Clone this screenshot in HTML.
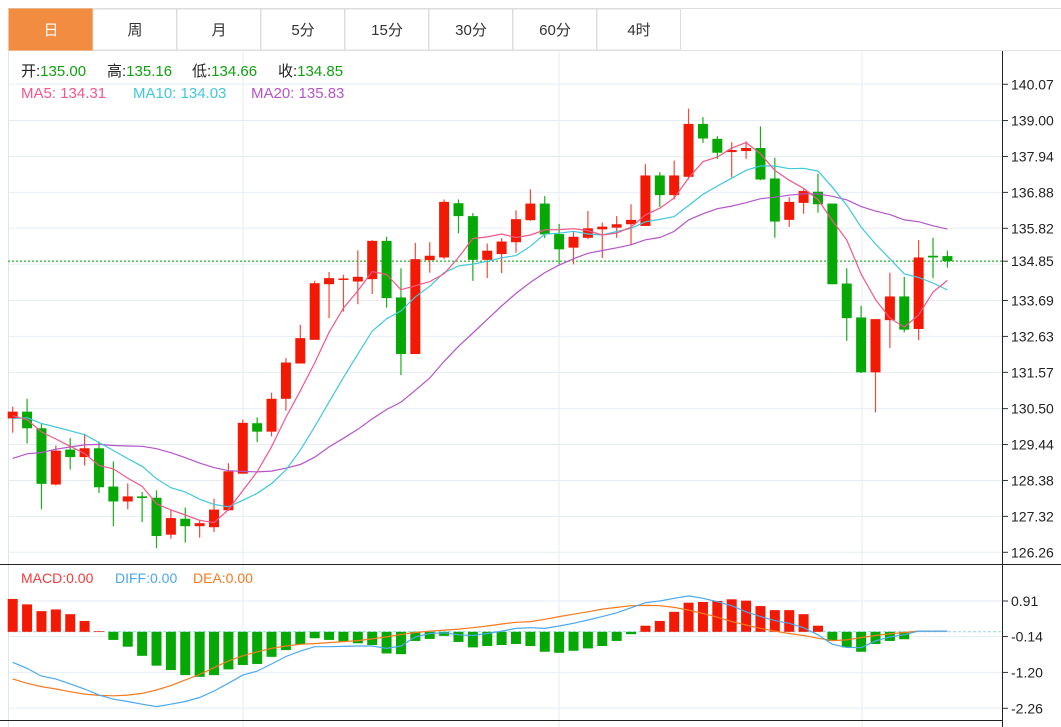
<!DOCTYPE html>
<html><head><meta charset="utf-8">
<style>
body{margin:0;background:#fff;width:1061px;height:727px;overflow:hidden;font-family:"Liberation Sans","Noto Sans CJK SC",sans-serif;}
svg{display:block}
</style></head>
<body>
<svg id="c" width="1061" height="727" xmlns="http://www.w3.org/2000/svg" font-family="Liberation Sans, Noto Sans CJK SC, sans-serif"></svg>
<script>
const opens=[130.21,130.41,129.92,128.26,129.29,129.07,129.33,128.20,127.76,127.91,127.87,126.78,127.25,127.03,127.00,127.50,128.58,130.07,129.82,130.79,131.83,132.53,134.17,134.30,134.25,134.32,135.45,133.78,132.11,134.88,134.96,136.56,136.18,134.89,135.06,135.41,136.06,136.55,135.65,135.25,135.54,135.79,135.84,135.94,135.89,137.38,136.80,137.34,138.90,138.46,138.07,138.10,138.19,137.29,136.07,136.57,136.90,136.55,134.19,133.19,131.57,133.11,133.81,132.85,135.01,135.00];
const highs=[130.56,130.79,130.06,129.41,129.63,129.76,129.53,128.94,128.29,128.04,128.09,127.50,127.58,127.22,127.84,128.89,130.18,130.24,130.97,131.99,132.97,134.27,134.53,134.45,135.17,135.47,135.57,134.64,135.39,135.41,136.67,136.67,136.27,135.37,135.53,136.35,136.97,136.77,135.95,135.71,136.33,135.99,136.18,136.53,137.71,137.48,137.82,139.35,139.10,138.54,138.36,138.39,138.83,137.90,136.74,136.97,137.43,136.55,134.64,133.53,133.14,134.51,134.39,135.47,135.54,135.16];
const lows=[129.79,129.47,127.53,128.23,128.70,128.82,128.01,127.03,127.53,127.15,126.38,126.66,126.55,126.69,126.86,127.48,128.58,129.51,129.68,130.44,131.83,132.53,133.17,133.36,133.58,133.88,133.48,131.49,132.11,134.51,134.91,135.67,134.27,134.35,134.50,135.10,136.04,135.53,134.76,134.76,135.50,134.94,135.54,135.33,135.89,136.45,136.67,137.26,138.34,137.87,137.33,137.87,137.24,135.54,135.86,136.25,136.28,134.17,132.50,131.55,130.39,132.29,132.75,132.52,134.35,134.66];
const closes=[130.41,129.92,128.28,129.26,129.07,129.33,128.18,127.76,127.91,127.86,126.74,127.27,127.03,127.12,127.52,128.65,130.08,129.82,130.79,131.86,132.58,134.20,134.35,134.34,134.39,135.45,133.76,132.11,134.91,135.01,136.60,136.18,134.89,135.16,135.43,136.09,136.55,135.64,135.20,135.57,135.82,135.87,135.94,136.07,137.38,136.80,137.38,138.90,138.47,138.05,138.13,138.19,137.26,136.02,136.60,136.92,136.53,134.17,133.17,131.57,133.14,133.81,132.83,134.96,134.96,134.85];
const prevCloses=[127.2,127.5,127.3,127.8,128.1,127.9,128.4,128.2,128.0,128.2,129.6,130.0,130.3,130.2,130.46,130.5,130.1,130.3,130.14];
const diffVals=[-0.90,-1.08,-1.31,-1.39,-1.54,-1.69,-1.87,-1.99,-2.06,-2.14,-2.21,-2.14,-2.06,-1.94,-1.75,-1.52,-1.28,-1.16,-0.95,-0.73,-0.57,-0.44,-0.44,-0.43,-0.42,-0.42,-0.49,-0.42,-0.15,-0.05,-0.03,-0.09,-0.11,-0.05,0.02,0.10,0.12,0.10,0.17,0.25,0.35,0.45,0.56,0.71,0.86,0.91,0.99,1.06,0.99,0.89,0.77,0.59,0.45,0.33,0.25,0.12,-0.09,-0.37,-0.46,-0.47,-0.27,-0.15,-0.09,0.02,0.02,0.02];
const deaVals=[-1.39,-1.52,-1.62,-1.69,-1.77,-1.84,-1.88,-1.89,-1.87,-1.82,-1.72,-1.59,-1.42,-1.26,-1.06,-0.86,-0.71,-0.59,-0.49,-0.42,-0.37,-0.35,-0.32,-0.29,-0.26,-0.21,-0.15,-0.08,-0.02,0.02,0.05,0.08,0.12,0.17,0.23,0.28,0.30,0.37,0.45,0.52,0.59,0.67,0.72,0.77,0.78,0.77,0.72,0.64,0.54,0.43,0.30,0.20,0.10,0.02,-0.05,-0.11,-0.19,-0.26,-0.24,-0.17,-0.11,-0.06,-0.02,0.02,0.02,0.02];
const macdVals=[0.97,0.81,0.61,0.66,0.52,0.32,0.02,-0.24,-0.44,-0.71,-1.00,-1.13,-1.28,-1.33,-1.28,-1.11,-0.98,-0.95,-0.74,-0.54,-0.37,-0.19,-0.24,-0.29,-0.34,-0.39,-0.64,-0.66,-0.27,-0.21,-0.12,-0.30,-0.46,-0.42,-0.39,-0.36,-0.42,-0.59,-0.62,-0.56,-0.49,-0.42,-0.27,-0.07,0.18,0.32,0.59,0.86,0.88,0.91,0.96,0.92,0.76,0.64,0.64,0.52,0.18,-0.27,-0.46,-0.59,-0.36,-0.27,-0.22,0,0,0];
const priceTicks=["140.07","139.00","137.94","136.88","135.82","133.69","132.63","131.57","130.50","129.44","128.38","127.32","126.26"];
const macdTicks=["0.91","-0.14","-1.20","-2.26"];
const tabs=["日","周","月","5分","15分","30分","60分","4时"];
const lastPrice=134.85;

const NS="http://www.w3.org/2000/svg";
const svg=document.getElementById('c');
function mk(t,a,p){const e=document.createElementNS(NS,t);for(const k in a)e.setAttribute(k,a[k]);(p||svg).appendChild(e);return e;}
const pY=p=>552.3-(p-126.26)*33.89;
const mY=v=>631.8-v*33.85;
const X=i=>12.7+i*14.38;

// tabs
mk('line',{x1:8,y1:8.5,x2:1061,y2:8.5,stroke:'#ddd'});
mk('line',{x1:8,y1:50.5,x2:1061,y2:50.5,stroke:'#e3e3e3'});
tabs.forEach((t,i)=>{
  const x=9+i*84;
  const r=mk('rect',{x:x,y:9,width:83.5,height:41,fill:i==0?'#f28c41':'#fff',stroke:i==0?'#f28c41':'#ddd'});
  
  
  const tx=mk('text',{x:x+42,y:35,'text-anchor':'middle','font-size':15,fill:i==0?'#fff':'#333'});
  tx.textContent=t;
  
  
});

// grid
const grid=mk('g',{stroke:'#e5edf4','stroke-width':1});


priceTicks.forEach(t=>mk('line',{x1:8,x2:1003,y1:pY(+t),y2:pY(+t)},grid));
mk('line',{x1:8,x2:1003,y1:pY(134.76),y2:pY(134.76)},grid);
macdTicks.forEach(t=>mk('line',{x1:8,x2:1003,y1:mY(+t),y2:mY(+t)},grid));
[243,559,862].forEach(x=>mk('line',{x1:x,x2:x,y1:51,y2:727},grid));
mk('line',{x1:8.5,x2:8.5,y1:51,y2:727,stroke:'#dde6ee'});

// axes
mk('line',{x1:1002.5,x2:1002.5,y1:51,y2:727,stroke:'#222'});
mk('line',{x1:0,x2:1061,y1:564.5,y2:564.5,stroke:'#222'});
mk('line',{x1:0,x2:1003,y1:720.5,y2:720.5,stroke:'#222'});
priceTicks.forEach(t=>{
  const y=pY(+t);
  mk('line',{x1:1003,x2:1008,y1:y,y2:y,stroke:'#333'});
  const tx=mk('text',{x:1011,y:y+5,'font-size':14,fill:'#222'});tx.textContent=t;
  
  
});
macdTicks.forEach(t=>{
  const y=mY(+t);
  mk('line',{x1:1003,x2:1008,y1:y,y2:y,stroke:'#333'});
  const tx=mk('text',{x:1011,y:y+5,'font-size':14,fill:'#222'});tx.textContent=t;
  
  
});

// last price line
mk('line',{x1:8,x2:1003,y1:pY(lastPrice),y2:pY(lastPrice),stroke:'#3cb93c','stroke-dasharray':'2,2','stroke-width':1.3});
mk('line',{x1:1003,x2:1008,y1:pY(lastPrice),y2:pY(lastPrice),stroke:'#333'});
const lp=mk('text',{x:1011,y:pY(lastPrice)+5,'font-size':14,fill:'#222'});lp.textContent=lastPrice.toFixed(2);



// candles
const cg=mk('g',{});


closes.forEach((c,i)=>{
  const o=opens[i],up=c>o,col=up?'#f21a05':'#05a805',x=X(i);
  mk('line',{x1:x,x2:x,y1:pY(highs[i]),y2:pY(lows[i]),stroke:up?'#f24a3a':'#1aae1a','stroke-width':1.2},cg);
  const top=pY(Math.max(o,c)),h=Math.max(1.5,Math.abs(pY(o)-pY(c)));
  const r=mk('rect',{x:x-5,y:top,width:10,height:h,fill:col},cg);
  
  
});

// MAs
const all=prevCloses.concat(closes);
function ma(n){return closes.map((_,i)=>{const j=i+prevCloses.length;let s=0;for(let k=j-n+1;k<=j;k++)s+=all[k];return s/n;});}
function line(vals,col,yf,name){const d=vals.map((v,i)=>(i?'L':'M')+X(i).toFixed(1)+' '+yf(v).toFixed(1)).join('');const p=mk('path',{d:d,fill:'none',stroke:col,'stroke-width':1.2});}
line(ma(20),'#b455c8',pY,'ma20-line');
line(ma(10),'#3ec8dc',pY,'ma10-line');
line(ma(5),'#f2578a',pY,'ma5-line');

// MACD
mk('line',{x1:8,x2:1003,y1:mY(0),y2:mY(0),stroke:'#8fd3ef','stroke-dasharray':'3,2'});
macdVals.forEach((v,i)=>{
  if(Math.abs(v)<0.01)return;
  const y0=mY(0),y1=mY(v);
  const r=mk('rect',{x:X(i)-5,y:Math.min(y0,y1),width:10,height:Math.abs(y1-y0),fill:v>0?'#f21a05':'#05a805'});
  
  
});
line(deaVals,'#f57a1f',mY,'dea-line');
line(diffVals,'#4ba8f0',mY,'diff-line');

// headers
function txt(x,y,parts,size,name){const t=mk('text',{x:x,y:y,'font-size':size});parts.forEach(([s,c])=>{const sp=mk('tspan',{fill:c},t);sp.textContent=s;});}
const G='#12a012';
txt(21,76,[['开:','#222'],['135.00',G]],15,'open-value');
txt(107,76,[['高:','#222'],['135.16',G]],15,'high-value');
txt(192,76,[['低:','#222'],['134.66',G]],15,'low-value');
txt(278,76,[['收:','#222'],['134.85',G]],15,'close-value');
txt(21,98,[['MA5: 134.31','#f2578a']],15,'ma5-legend');
txt(133,98,[['MA10: 134.03','#3ec8dc']],15,'ma10-legend');
txt(251,98,[['MA20: 135.83','#b455c8']],15,'ma20-legend');
txt(21,583,[['MACD:0.00','#f03a3a']],14,'macd-legend');
txt(115,583,[['DIFF:0.00','#4ba8f0']],14,'diff-legend');
txt(193,583,[['DEA:0.00','#f57a1f']],14,'dea-legend');
</script>
</body></html>
